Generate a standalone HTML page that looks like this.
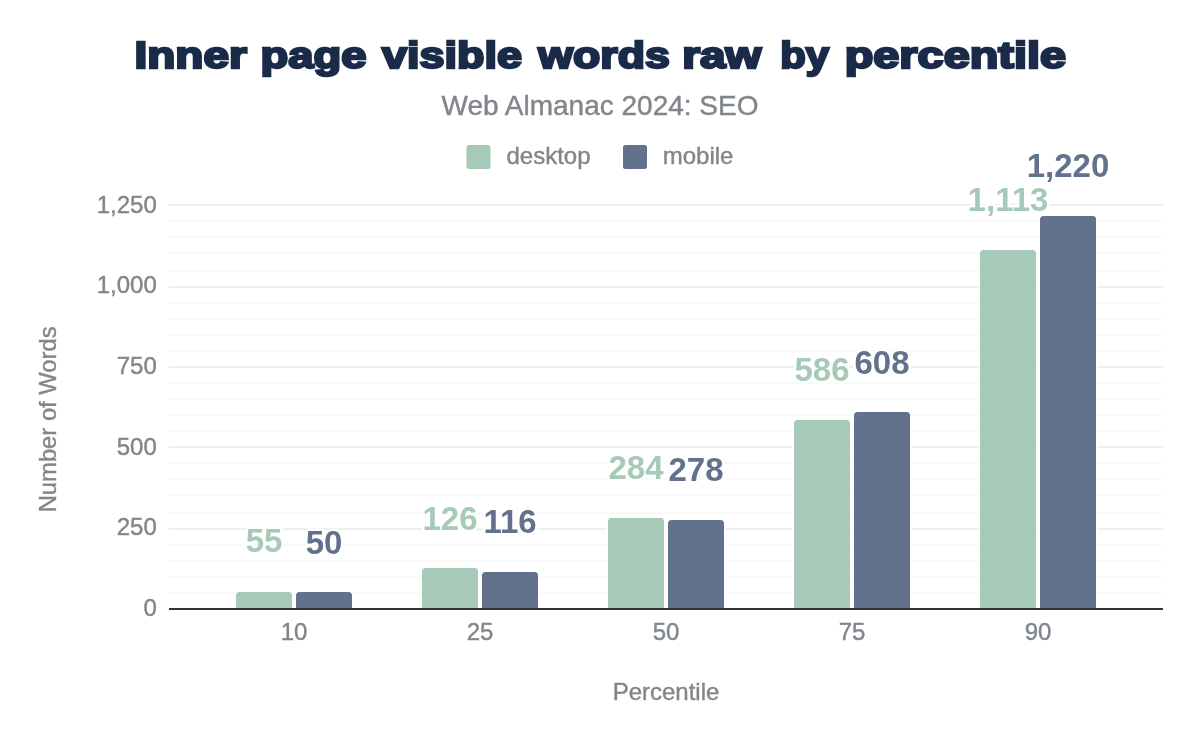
<!DOCTYPE html>
<html lang="en"><head><meta charset="utf-8"><title>Inner page visible words raw by percentile</title>
<style>html,body{margin:0;padding:0;background:#fff}svg{display:block}text{font-family:"Liberation Sans",sans-serif}</style></head><body>
<svg width="1200" height="742" viewBox="0 0 1200 742">
<rect width="1200" height="742" fill="#fff"/>
<g font-weight="bold" font-size="37.8" fill="#1a2b49" stroke="#1a2b49" stroke-width="2.4" stroke-linejoin="miter" stroke-miterlimit="2.5">
<text x="134.54" y="68.3" textLength="112.35" lengthAdjust="spacingAndGlyphs">Inner</text>
<text x="260.51" y="68.3" textLength="105.95" lengthAdjust="spacingAndGlyphs">page</text>
<text x="381.98" y="68.3" textLength="139.97" lengthAdjust="spacingAndGlyphs">visible</text>
<text x="538.33" y="68.3" textLength="131.46" lengthAdjust="spacingAndGlyphs">words</text>
<text x="682.17" y="68.3" textLength="79.16" lengthAdjust="spacingAndGlyphs">raw</text>
<text x="780.31" y="68.3" textLength="48.82" lengthAdjust="spacingAndGlyphs">by</text>
<text x="844.70" y="68.3" textLength="221.29" lengthAdjust="spacingAndGlyphs">percentile</text>
</g>
<text x="600" y="114.7" text-anchor="middle" font-size="28" fill="#80868b" stroke="#80868b" stroke-width="0.4">Web Almanac 2024: SEO</text>
<rect x="466.5" y="145" width="24" height="24" rx="2.5" fill="#a7c9b8"/>
<text x="506.5" y="164.4" font-size="24" fill="#80868b" stroke="#80868b" stroke-width="0.4">desktop</text>
<rect x="623" y="145" width="24" height="24" rx="2.5" fill="#62718c"/>
<text x="662.7" y="164.4" font-size="24" fill="#80868b" stroke="#80868b" stroke-width="0.4">mobile</text>
<rect x="169" y="204" width="994" height="2" fill="#eef0ef"/>
<rect x="169" y="220" width="994" height="2" fill="#f8f9f9"/>
<rect x="169" y="236" width="994" height="2" fill="#f8f9f9"/>
<rect x="169" y="252" width="994" height="2" fill="#f8f9f9"/>
<rect x="169" y="270" width="994" height="2" fill="#f8f9f9"/>
<rect x="169" y="286" width="994" height="2" fill="#eef0ef"/>
<rect x="169" y="302" width="994" height="2" fill="#f8f9f9"/>
<rect x="169" y="318" width="994" height="2" fill="#f8f9f9"/>
<rect x="169" y="334" width="994" height="2" fill="#f8f9f9"/>
<rect x="169" y="350" width="994" height="2" fill="#f8f9f9"/>
<rect x="169" y="366" width="994" height="2" fill="#eef0ef"/>
<rect x="169" y="382" width="994" height="2" fill="#f8f9f9"/>
<rect x="169" y="398" width="994" height="2" fill="#f8f9f9"/>
<rect x="169" y="414" width="994" height="2" fill="#f8f9f9"/>
<rect x="169" y="430" width="994" height="2" fill="#f8f9f9"/>
<rect x="169" y="446" width="994" height="2" fill="#eef0ef"/>
<rect x="169" y="462" width="994" height="2" fill="#f8f9f9"/>
<rect x="169" y="478" width="994" height="2" fill="#f8f9f9"/>
<rect x="169" y="494" width="994" height="2" fill="#f8f9f9"/>
<rect x="169" y="512" width="994" height="2" fill="#f8f9f9"/>
<rect x="169" y="528" width="994" height="2" fill="#eef0ef"/>
<rect x="169" y="544" width="994" height="2" fill="#f8f9f9"/>
<rect x="169" y="560" width="994" height="2" fill="#f8f9f9"/>
<rect x="169" y="576" width="994" height="2" fill="#f8f9f9"/>
<rect x="169" y="592" width="994" height="2" fill="#f8f9f9"/>
<g font-size="24" fill="#80868b" stroke="#80868b" stroke-width="0.4" text-anchor="end">
<text x="156.8" y="615.84">0</text>
<text x="156.8" y="535.24">250</text>
<text x="156.8" y="454.64">500</text>
<text x="156.8" y="374.04">750</text>
<text x="156.8" y="293.44">1,000</text>
<text x="156.8" y="212.84">1,250</text>
</g>
<g stroke="#fff" stroke-width="3" paint-order="stroke">
<path d="M236 609.00V595.50a3.5 3.5 0 0 1 3.5 -3.5h49.0a3.5 3.5 0 0 1 3.5 3.5V609.00z" fill="#a7c9b8"/>
<path d="M296 609.00V595.50a3.5 3.5 0 0 1 3.5 -3.5h49.0a3.5 3.5 0 0 1 3.5 3.5V609.00z" fill="#62718c"/>
<path d="M422 609.00V571.50a3.5 3.5 0 0 1 3.5 -3.5h49.0a3.5 3.5 0 0 1 3.5 3.5V609.00z" fill="#a7c9b8"/>
<path d="M482 609.00V575.50a3.5 3.5 0 0 1 3.5 -3.5h49.0a3.5 3.5 0 0 1 3.5 3.5V609.00z" fill="#62718c"/>
<path d="M608 609.00V521.50a3.5 3.5 0 0 1 3.5 -3.5h49.0a3.5 3.5 0 0 1 3.5 3.5V609.00z" fill="#a7c9b8"/>
<path d="M668 609.00V523.50a3.5 3.5 0 0 1 3.5 -3.5h49.0a3.5 3.5 0 0 1 3.5 3.5V609.00z" fill="#62718c"/>
<path d="M794 609.00V423.50a3.5 3.5 0 0 1 3.5 -3.5h49.0a3.5 3.5 0 0 1 3.5 3.5V609.00z" fill="#a7c9b8"/>
<path d="M854 609.00V415.50a3.5 3.5 0 0 1 3.5 -3.5h49.0a3.5 3.5 0 0 1 3.5 3.5V609.00z" fill="#62718c"/>
<path d="M980 609.00V253.50a3.5 3.5 0 0 1 3.5 -3.5h49.0a3.5 3.5 0 0 1 3.5 3.5V609.00z" fill="#a7c9b8"/>
<path d="M1040 609.00V219.50a3.5 3.5 0 0 1 3.5 -3.5h49.0a3.5 3.5 0 0 1 3.5 3.5V609.00z" fill="#62718c"/>
</g>
<rect x="169" y="608" width="994" height="2" fill="#333"/>
<g font-size="33" font-weight="bold" text-anchor="middle" stroke="#fff" stroke-width="5" stroke-linejoin="round" paint-order="stroke">
<text x="264.00" y="552.41" fill="#a7c9b8">55</text>
<text x="324.00" y="554.02" fill="#62718c">50</text>
<text x="450.00" y="529.52" fill="#a7c9b8">126</text>
<text x="510.00" y="532.74" fill="#62718c">116</text>
<text x="636.00" y="478.58" fill="#a7c9b8">284</text>
<text x="696.00" y="480.51" fill="#62718c">278</text>
<text x="822.00" y="381.21" fill="#a7c9b8">586</text>
<text x="882.00" y="374.12" fill="#62718c">608</text>
<text x="1008.00" y="211.31" fill="#a7c9b8">1,113</text>
<text x="1068.00" y="176.81" fill="#62718c">1,220</text>
</g>
<g font-size="24" fill="#80868b" stroke="#80868b" stroke-width="0.4" text-anchor="middle">
<text x="294" y="640">10</text>
<text x="480" y="640">25</text>
<text x="666" y="640">50</text>
<text x="852" y="640">75</text>
<text x="1038" y="640">90</text>
</g>
<text x="666" y="699.5" text-anchor="middle" font-size="24" fill="#80868b" stroke="#80868b" stroke-width="0.4">Percentile</text>
<text transform="translate(55.8 419.35) rotate(-90)" text-anchor="middle" font-size="23.8" fill="#80868b" stroke="#80868b" stroke-width="0.4">Number of Words</text>
</svg></body></html>
